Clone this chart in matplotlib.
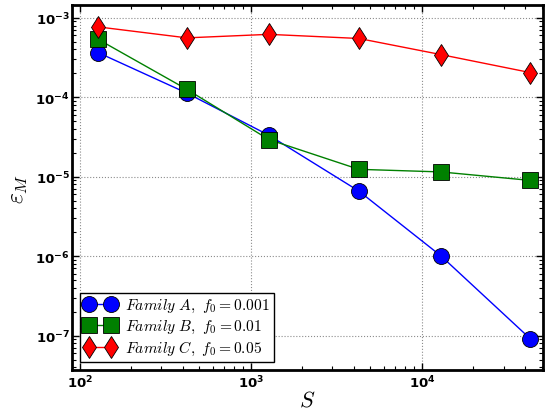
import numpy as np
import matplotlib
matplotlib.use("Agg")
import matplotlib.pyplot as plt
from matplotlib.ticker import LogLocator, FuncFormatter, NullFormatter

# ---- data -----------------------------------------------------------------
S = [128, 423, 1275, 4280, 12900, 42800]
eps_A = [3.66e-4, 1.13e-4, 3.33e-5, 6.6e-6, 1.01e-6, 9.2e-8]
eps_B = [5.38e-4, 1.26e-4, 2.94e-5, 1.24e-5, 1.15e-5, 9.0e-6]
eps_C = [7.7e-4, 5.6e-4, 6.2e-4, 5.5e-4, 3.45e-4, 2.05e-4]

labels = [r"$Family\ A,\ f_0=0.001$",
          r"$Family\ B,\ f_0=0.01$",
          r"$Family\ C,\ f_0=0.05$"]

plt.rcParams["mathtext.fontset"] = "cm"

fig = plt.figure(figsize=(5.48, 4.14), dpi=100)
ax = fig.add_axes([0.131, 0.104, 0.860, 0.882])

ax.loglog(S, eps_A, "b-", marker="o", ms=11.5, mec="k", mew=0.6, lw=1, label=labels[0])
ax.loglog(S, eps_B, "g-", marker="s", ms=11.5, mec="k", mew=0.6, lw=1, label=labels[1])
ax.loglog(S, eps_C, "r-", marker="d", ms=11.5, mec="k", mew=0.6, lw=1, label=labels[2])

ax.set_xlim(90, 51000)
ax.set_ylim(3.7e-8, 1.46e-3)

ax.grid(True, which="major", color="0.55", ls=":", lw=0.8)

for s in ax.spines.values():
    s.set_linewidth(2)

ax.tick_params(which="both", direction="in", top=True, right=True)
ax.tick_params(which="major", length=5, width=1)
ax.tick_params(which="minor", length=3, width=0.8)
ax.xaxis.set_minor_locator(LogLocator(base=10, subs=np.arange(2, 10), numticks=20))
ax.yaxis.set_minor_locator(LogLocator(base=10, subs=np.arange(2, 10), numticks=20))
ax.xaxis.set_minor_formatter(NullFormatter())
ax.yaxis.set_minor_formatter(NullFormatter())


def fmt(v, pos):
    e = int(round(np.log10(v)))
    return r"$\mathbf{10^{%d}}$" % e


ax.xaxis.set_major_formatter(FuncFormatter(fmt))
ax.yaxis.set_major_formatter(FuncFormatter(fmt))
for t in ax.get_xticklabels() + ax.get_yticklabels():
    t.set_math_fontfamily("dejavusans")
    t.set_fontsize(9.5)
ax.tick_params(axis="x", pad=3)
ax.tick_params(axis="y", pad=1.5)

ax.set_xlabel(r"$S$", fontsize=16, labelpad=-1)
ax.set_ylabel(r"$\varepsilon_M$", fontsize=17, labelpad=4)

leg = ax.legend(loc="lower left", numpoints=2, fancybox=False, framealpha=1,
                edgecolor="k", fontsize=11.2, handlelength=2.0, handletextpad=0.6,
                borderaxespad=0.5, labelspacing=0.25, borderpad=0.3)
leg.get_frame().set_linewidth(1)

fig.savefig("out.png", dpi=100)
